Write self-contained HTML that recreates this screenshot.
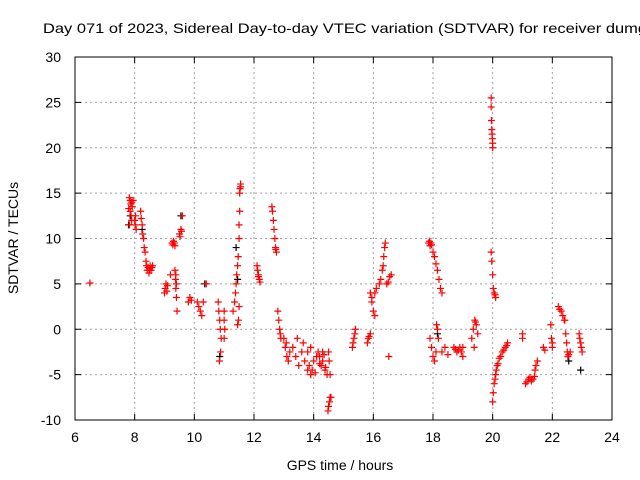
<!DOCTYPE html>
<html><head><meta charset="utf-8"><style>
body{margin:0;background:#fff}
svg{display:block;font-family:"Liberation Sans",sans-serif}
</style></head><body>
<svg id="chart" width="640" height="480" viewBox="0 0 640 480">
<rect width="640" height="480" fill="#fff"/>
<text x="43" y="33" font-size="14" fill="#000" textLength="604" lengthAdjust="spacingAndGlyphs">Day 071 of 2023, Sidereal Day-to-day VTEC variation (SDTVAR) for receiver dumg</text>
<text x="18" y="238" font-size="14" text-anchor="middle" transform="rotate(-90 18 238)">SDTVAR / TECUs</text>
<text x="340" y="470" font-size="14" text-anchor="middle">GPS time / hours</text>
<g id="grid"></g><g id="ticks"></g><g id="pts"></g>
<rect x="75" y="57" width="537" height="363" fill="none" stroke="#000" stroke-width="1"/>
</svg>
<script>
const xTicks=[6,8,10,12,14,16,18,20,22,24];
const yTicks=[-10,-5,0,5,10,15,20,25,30];
const redT=[6.5,
7.82,7.85,7.87,7.9,7.92,7.95,7.85,7.88,7.9,7.8,7.83,
8.0,8.02,8.05,8.03,
8.2,8.22,8.25,8.27,8.3,8.32,8.35,
8.38,8.4,8.42,8.45,8.48,8.5,8.52,8.55,8.58,8.6,
9.0,9.02,9.05,9.08,9.1,9.2,
9.25,9.28,9.3,9.33,9.35,
9.35,9.37,9.38,9.4,9.42,9.4,9.38,
9.5,9.52,9.55,9.57,9.6,
9.8,9.85,9.9,
10.1,10.15,10.2,10.25,10.3,10.4,
10.8,10.82,10.85,10.87,10.9,10.88,10.84,
11.0,11.0,11.02,11.0,
11.3,11.35,11.38,11.4,11.42,11.45,11.47,11.5,11.5,11.52,11.52,11.53,11.55,11.55,11.5,11.48,11.45,
12.1,12.12,12.15,12.18,12.2,12.15,
12.6,12.62,12.65,12.67,12.7,12.72,12.75,12.73,
12.8,12.83,12.86,12.9,12.88,
13.0,13.05,13.1,13.15,13.2,13.08,
13.3,13.4,13.5,13.6,13.7,13.8,13.9,13.45,13.65,
13.8,13.85,13.9,13.95,14.0,14.05,14.1,
14.15,14.2,14.25,14.3,14.35,14.4,14.45,14.2,14.3,14.38,
14.5,14.52,14.55,
14.48,14.5,14.53,14.55,14.58,
15.3,15.32,15.35,15.38,15.4,
15.8,15.83,15.86,15.9,
15.9,15.95,16.0,16.05,16.1,15.95,16.05,
16.2,16.25,16.3,16.35,16.4,16.38,16.33,
16.45,16.5,16.55,16.6,
16.52,
17.85,17.88,17.9,17.93,17.95,
18.0,18.05,18.1,18.15,18.2,18.25,18.3,
17.9,17.95,18.0,18.05,18.1,18.12,18.15,18.18,
18.3,18.4,18.5,
18.7,18.75,18.8,18.85,18.9,18.95,19.0,19.0,
19.3,19.35,19.4,19.45,19.5,19.38,19.42,
19.95,19.95,19.96,19.97,19.98,19.99,20.0,20.0,
19.95,19.97,20.0,20.02,20.05,20.08,20.1,
20.0,20.02,20.05,20.08,20.1,20.12,20.15,
20.18,20.22,20.27,20.32,20.37,20.42,20.47,20.5,
21.0,21.0,
21.1,21.15,21.2,21.25,21.3,21.35,21.4,21.42,21.45,21.5,
21.7,21.75,
21.95,21.97,22.0,22.0,
22.2,22.25,22.3,22.35,22.4,
22.42,22.45,22.48,22.5,22.52,22.55,22.6,
22.9,22.92,22.95,22.97,23.0];
const redV=[5.1,
14.5,14.2,13.8,14,13.5,14.2,13,12.5,12,13.3,11.5,
12,11.5,11,12.5,
13,12.2,11.5,10.5,10,9,8.5,
7.5,7,6.5,6.8,6.2,6.5,7,6.5,6.8,7,
4,4.5,5,4.2,4.8,6,
9.5,9.3,9.7,9.5,9.2,
6.5,5.5,4.5,3.5,2,5,6,
10.5,10.2,11,10.8,12.5,
3,3.5,3.2,
3,2.5,2,1.5,3,5,
3,2,1,0,-1,-2.5,-3.5,
2,1,0,-1,
2,3,4,5,6,7,8,10,11.5,13,15,15.5,16,15.7,2.5,1,0.5,
7,6.5,6,5.5,5.2,5.8,
13.5,13,12,11,10,9,8.5,8.8,
2,1,0,-1,-0.5,
-1,-2,-3,-3.5,-2.5,-1.5,
-2,-3,-4,-2.5,-3.5,-4.5,-2,-1,-1.5,
-2.5,-4,-5,-4.5,-3.5,-4.8,-3,
-2.5,-3,-4,-3.5,-2.8,-4.2,-5,-3.8,-2.5,-4.5,
-2.5,-3.5,-5,
-9,-8.5,-8,-7.5,-7.5,
-2,-1.5,-1,-0.5,0,
-1.5,-1,-0.8,-0.5,
4,3,2,1.5,4.5,3.5,4,
5,5.5,6.5,8,9.5,9,7,
5,5.2,5.8,6,
-3,
9.5,9.7,9.2,9.5,9.3,
8.5,8,7.2,6.5,5.5,4.5,4,
-1,-2,-3,-3.5,-2.5,0.5,0,-1,
-2.5,-2,-2.8,
-2,-2.2,-2.5,-2.3,-2,-2.5,-3,-2,
-1,0,1,0.5,-0.5,-2,0.8,
25.5,24.5,23,22,21.5,21,20.5,20,
8.5,7.5,6,4.5,4,3.8,3.5,
-8,-7,-6,-5.5,-5,-4.5,-4,
-3.8,-3.2,-3,-2.5,-2.3,-2,-1.8,-1.5,
-0.5,-1,
-6,-5.8,-5.5,-5.3,-5.7,-5.5,-5.2,-4.5,-4,-3.5,
-2,-2.3,
0.5,-1,-1.5,-2,
2.5,2.2,2,1.5,1,
1,-0.5,-1.5,-2.5,-3,-2.8,-2.5,
-0.5,-1,-1.5,-2,-2.5];
const blackT=[7.8,7.85,8.25,9.55,10.35,10.85,11.4,11.45,22.95,22.55,18.15];
const blackV=[11.5,12.5,11,12.5,5,-3,9,5.5,-4.5,-3.5,-0.5];
const X0=75,X1=612,Y0=420,Y1=57;
const xs=t=>X0+(t-6)/(24-6)*(X1-X0);
const ys=v=>Y0-(v+10)/40*(Y0-Y1);
const NS="http://www.w3.org/2000/svg";
function mk(tag,attrs,parent){const e=document.createElementNS(NS,tag);for(const k in attrs)e.setAttribute(k,attrs[k]);parent.appendChild(e);return e;}
const grid=document.getElementById('grid'),ticks=document.getElementById('ticks'),pts=document.getElementById('pts');
xTicks.forEach(t=>{const x=xs(t);
 if(t>6&&t<24){const g=mk('line',{x1:x,x2:x,y1:Y1,y2:Y0,stroke:'#a0a0a0','stroke-dasharray':'2,3'},grid);
 
 }
 mk('line',{x1:x,x2:x,y1:Y0,y2:Y0-6,stroke:'#000'},ticks);
 mk('line',{x1:x,x2:x,y1:Y1,y2:Y1+6,stroke:'#000'},ticks);
 const l=mk('text',{x:x,y:442,'font-size':14,'text-anchor':'middle'},ticks);l.textContent=t;
 
 
});
yTicks.forEach(v=>{const y=ys(v);
 if(v>-10&&v<30){const g=mk('line',{x1:X0,x2:X1,y1:y,y2:y,stroke:'#a0a0a0','stroke-dasharray':'2,3'},grid);
 
 }
 mk('line',{x1:X0,x2:X0+6,y1:y,y2:y,stroke:'#000'},ticks);
 mk('line',{x1:X1,x2:X1-6,y1:y,y2:y,stroke:'#000'},ticks);
 const l=mk('text',{x:61,y:y+5,'font-size':14,'text-anchor':'end'},ticks);l.textContent=v;
 
 
});
function plus(t,v,c,name){const x=xs(t),y=ys(v);
 const p=mk('path',{d:`M${x-3.5} ${y}H${x+3.5}M${x} ${y-3.5}V${y+3.5}`,stroke:c,'stroke-width':1.2,fill:'none'},pts);
 
 }
blackT.forEach((t,i)=>plus(t,blackV[i],'#000','black-point'));
redT.forEach((t,i)=>plus(t,redV[i],'#ff0000','sdtvar-point'));
</script>
</body></html>
